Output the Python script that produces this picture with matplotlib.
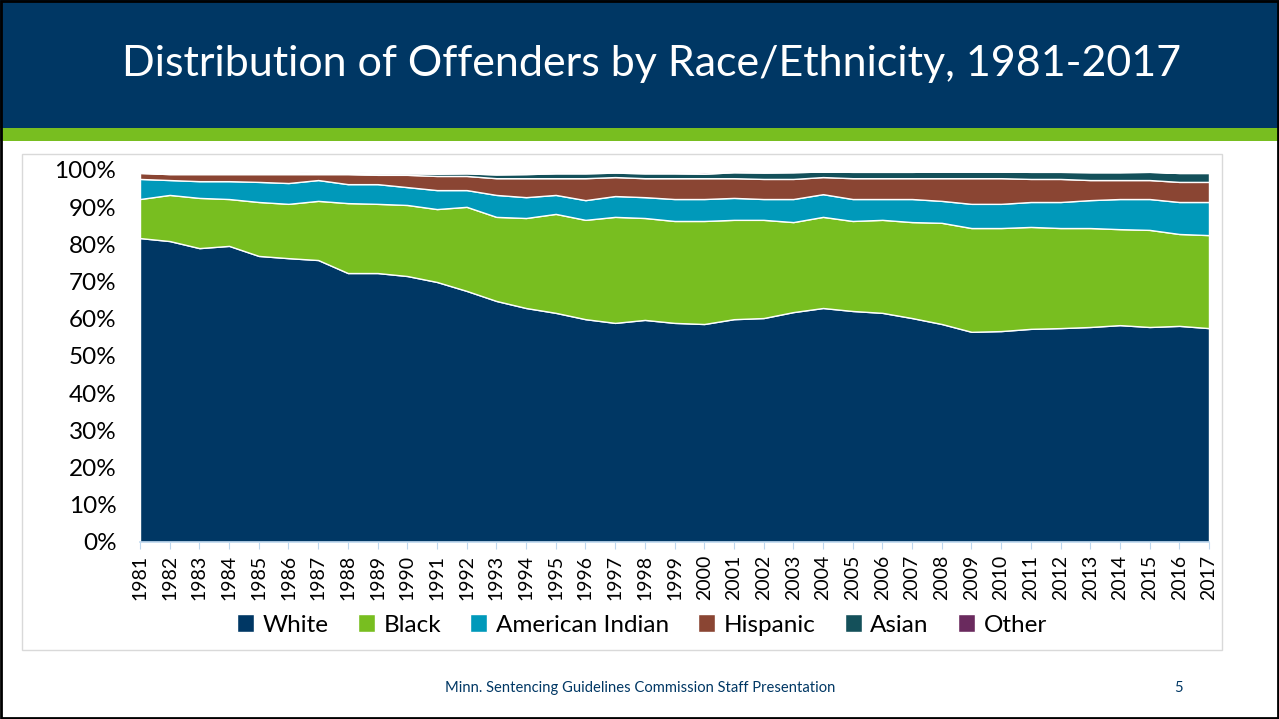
import numpy as np
import matplotlib
matplotlib.use("Agg")
import matplotlib.pyplot as plt
from matplotlib.patches import Rectangle
from matplotlib.ticker import FuncFormatter

plt.rcParams['font.family'] = ['Lato', 'DejaVu Sans']

# ---- data (percent of offenders) ----
years = list(range(1981, 2018))

white = [81.7, 80.9, 79.0, 79.6, 76.9, 76.3, 75.8, 72.3, 72.3, 71.5,
         69.9, 67.5, 64.8, 62.9, 61.6, 59.9, 58.9, 59.7, 58.9, 58.6,
         59.9, 60.2, 61.8, 62.9, 62.1, 61.6, 60.2, 58.6, 56.5, 56.7,
         57.3, 57.5, 57.8, 58.3, 57.8, 58.1, 57.5]
black = [10.5, 12.4, 13.5, 12.6, 14.5, 14.6, 15.9, 18.8, 18.6, 19.1,
         19.6, 22.6, 22.6, 24.2, 26.6, 26.7, 28.5, 27.4, 27.4, 27.7,
         26.7, 26.4, 24.2, 24.5, 24.2, 25.0, 25.8, 27.2, 27.9, 27.7,
         27.4, 26.9, 26.6, 25.8, 26.1, 24.7, 25.0]
amer_indian = [5.4, 4.0, 4.5, 4.8, 5.4, 5.6, 5.6, 5.1, 5.3, 4.8,
               5.1, 4.5, 5.9, 5.6, 5.1, 5.3, 5.6, 5.6, 5.9, 5.9,
               5.9, 5.6, 6.2, 6.1, 5.9, 5.6, 6.2, 5.9, 6.5, 6.5,
               6.7, 7.0, 7.5, 8.1, 8.3, 8.6, 8.9]
hispanic = [1.6, 1.6, 1.9, 1.9, 2.1, 2.4, 1.6, 2.7, 2.5, 3.3,
            3.8, 3.8, 4.5, 5.1, 4.5, 5.9, 5.1, 5.1, 5.6, 5.6,
            5.3, 5.4, 5.4, 4.6, 5.6, 5.6, 5.6, 6.1, 6.9, 6.9,
            6.2, 6.2, 5.4, 5.1, 5.1, 5.4, 5.4]
asian = [0.1, 0.2, 0.2, 0.2, 0.2, 0.2, 0.3, 0.3, 0.4, 0.4,
         0.6, 0.7, 1.0, 1.1, 1.3, 1.3, 1.2, 1.3, 1.3, 1.2,
         1.6, 1.7, 1.8, 1.5, 1.7, 1.7, 1.7, 1.8, 1.8, 1.8,
         1.9, 1.9, 2.1, 2.1, 2.2, 2.4, 2.4]
other = [0.2, 0.2, 0.2, 0.2, 0.2, 0.2, 0.2, 0.2, 0.2, 0.2,
         0.2, 0.2, 0.2, 0.2, 0.3, 0.3, 0.3, 0.3, 0.3, 0.4,
         0.3, 0.2, 0.1, 0.1, 0.1, 0.1, 0.1, 0.1, 0.1, 0.1,
         0.1, 0.1, 0.1, 0.1, 0.1, 0.1, 0.1]

labels = ['White', 'Black', 'American Indian', 'Hispanic', 'Asian', 'Other']
colors = ['#003764', '#78BE20', '#0099BA', '#8A4533', '#14505A', '#6A2A5E']

NAVY = '#003764'
GREEN = '#78BE20'

fig = plt.figure(figsize=(12.79, 7.19), dpi=100)
W, H = 1279, 719

# slide header
fig.patches.append(Rectangle((0, 1 - 128 / H), 1, 128 / H, transform=fig.transFigure,
                             facecolor=NAVY, edgecolor='none', zorder=-2))
fig.patches.append(Rectangle((0, 1 - 141 / H), 1, 13 / H, transform=fig.transFigure,
                             facecolor=GREEN, edgecolor='none', zorder=-2))
fig.text(652 / W, 1 - 64 / H, 'Distribution of Offenders by Race/Ethnicity, 1981-2017',
         color='white', fontsize=31, ha='center', va='center')

# chart frame
fig.patches.append(Rectangle((22 / W, 1 - 650 / H), 1200 / W, 496 / H, transform=fig.transFigure,
                             facecolor='white', edgecolor='#D9D9D9', linewidth=1, zorder=-2))
# slide border
fig.patches.append(Rectangle((0.001, 0.001), 0.998, 0.998, transform=fig.transFigure,
                             facecolor='none', edgecolor='black', linewidth=2, zorder=5))

ax = fig.add_axes([140 / W, 1 - 542 / H, 1069 / W, 372 / H])
ax.set_zorder(3)
ax.stackplot(years, white, black, amer_indian, hispanic, asian, other,
             colors=colors, labels=labels, edgecolor='white', linewidth=1.0)

ax.set_xlim(1981, 2017)
ax.set_ylim(0, 100)
ax.set_yticks(np.arange(0, 101, 10))
ax.yaxis.set_major_formatter(FuncFormatter(lambda v, p: f'{int(v)}%'))
ax.set_xticks(years)
ax.set_xticklabels([str(y) for y in years], rotation=90, fontsize=14)
ax.tick_params(axis='y', length=0, labelsize=17.5, pad=17)
ax.tick_params(axis='x', length=5, color='#BDD7EE', pad=4)
for s in ['top', 'right', 'left']:
    ax.spines[s].set_visible(False)
ax.spines['bottom'].set_color('#BDD7EE')
ax.spines['bottom'].set_linewidth(1.2)
ax.set_facecolor('none')

handles, lbls = ax.get_legend_handles_labels()
leg = fig.legend(handles, lbls, loc='center', bbox_to_anchor=(642 / W, 1 - 625 / H), ncol=6,
                 frameon=False, fontsize=17.5, handlelength=0.7, handleheight=0.7,
                 handletextpad=0.35, columnspacing=1.2)
leg.set_zorder(4)

fig.text(640 / W, 1 - 688 / H, 'Minn. Sentencing Guidelines Commission Staff Presentation',
         color=NAVY, fontsize=10.6, ha='center', va='center')
fig.text(1178 / W, 1 - 688 / H, '5', color=NAVY, fontsize=10.6, ha='center', va='center')

fig.savefig('out.png', dpi=100)
